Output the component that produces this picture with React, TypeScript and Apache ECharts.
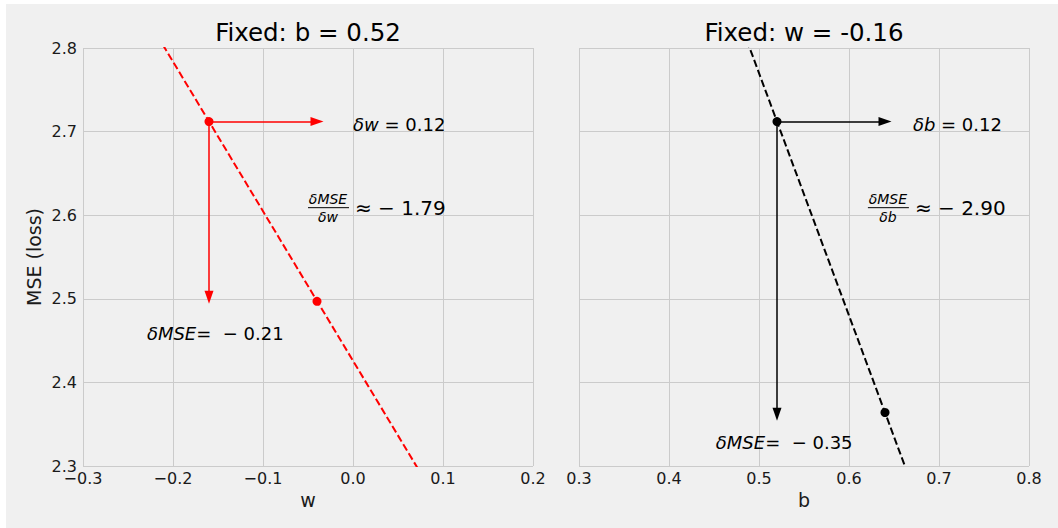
import React, { useEffect, useRef } from "react";
import * as echarts from "echarts";

// ---- data ----
const leftTitle = "Fixed: b = 0.52";
const rightTitle = "Fixed: w = -0.16";
const yAxisName = "MSE (loss)";
const leftXName = "w";
const rightXName = "b";

const yMin = 2.3;
const yMax = 2.8;
const yStep = 0.1;
const leftXMin = -0.3;
const leftXMax = 0.2;
const rightXMin = 0.3;
const rightXMax = 0.8;
const xStep = 0.1;

// dashed tangent lines (two points each, clipped by the axes)
const leftLineW = [-0.26, 0.1];
const leftLineMSE = [2.891, 2.247];
const rightLineB = [0.47, 0.7];
const rightLineMSE = [2.857, 2.19];

// markers
const leftPointsW = [-0.16, -0.04];
const leftPointsMSE = [2.712, 2.497];
const rightPointsB = [0.52, 0.64];
const rightPointsMSE = [2.712, 2.364];

// arrows (start + deltas)
const leftStart = [-0.16, 2.712];
const leftDeltaW = 0.12;
const leftDeltaMSE = -0.21;
const rightStart = [0.52, 2.712];
const rightDeltaB = 0.12;
const rightDeltaMSE = -0.35;

// annotation texts
const leftDxText = ["δw", " = 0.12"];
const leftDyText = ["δMSE", "=  − 0.21"];
const leftFrac = ["δMSE", "δw", "≈ − 1.79"];
const rightDxText = ["δb", " = 0.12"];
const rightDyText = ["δMSE", "=  − 0.35"];
const rightFrac = ["δMSE", "δb", "≈ − 2.90"];

// annotation anchors (data coords)
const leftDxPos = [0.0, 2.708];
const leftDyPos = [-0.229, 2.458];
const leftFracPos = [-0.05, 2.609];
const rightDxPos = [0.671, 2.708];
const rightDyPos = [0.452, 2.328];
const rightFracPos = [0.621, 2.609];

const FONT = "DejaVu Sans";
const TEXT = "#1a1a1a";
const GRID = "#cbcbcb";

const fmt = (v: number) => {
  const s = v.toFixed(1);
  return s.replace("-", "\u2212");
};

export default function App() {
  const ref = useRef<HTMLDivElement>(null);
  useEffect(() => {
    if (!ref.current) return;
    const chart = echarts.init(ref.current, undefined, { renderer: "svg" });
    const grids = [
      { left: 77, top: 44, width: 450, height: 418 },
      { left: 573, top: 44, width: 450, height: 418 },
    ];
    const xAxisBase = (gi: number, min: number, max: number, name: string) => ({
      type: "value",
      gridIndex: gi,
      min,
      max,
      interval: xStep,
      name,
      nameLocation: "middle",
      nameGap: 24,
      nameTextStyle: { fontFamily: FONT, fontSize: 19, color: TEXT },
      axisLine: { show: false },
      axisTick: { show: false },
      axisLabel: {
        fontFamily: FONT,
        fontSize: 16,
        color: TEXT,
        margin: 4,
        formatter: fmt,
        showMinLabel: true,
        showMaxLabel: true,
      },
      splitLine: { show: true, lineStyle: { color: GRID, width: 1 } },
    });
    const yAxisBase = (gi: number, showLabels: boolean) => ({
      type: "value",
      gridIndex: gi,
      min: yMin,
      max: yMax,
      interval: yStep,
      name: showLabels ? yAxisName : "",
      nameLocation: "middle",
      nameGap: 40,
      nameTextStyle: { fontFamily: FONT, fontSize: 19, color: TEXT },
      axisLine: { show: false },
      axisTick: { show: false },
      axisLabel: {
        show: showLabels,
        fontFamily: FONT,
        fontSize: 16,
        color: TEXT,
        margin: 6,
        formatter: fmt,
      },
      splitLine: { show: true, lineStyle: { color: GRID, width: 1 } },
    });

    const arrowLine = (
      start: number[],
      dx: number,
      dy: number,
      color: string
    ) => ({
      silent: true,
      symbol: ["none", "triangle"],
      symbolSize: [9, 13],
      label: { show: false },
      emphasis: { disabled: true },
      lineStyle: { color, width: 1.5, type: "solid" },
      data: [
        [{ coord: [start[0], start[1]] }, { coord: [start[0] + dx, start[1]] }],
        [{ coord: [start[0], start[1]] }, { coord: [start[0], start[1] + dy] }],
      ],
    });

    chart.setOption({
      animation: false,
      backgroundColor: "#f0f0f0",
      grid: grids,
      xAxis: [
        xAxisBase(0, leftXMin, leftXMax, leftXName),
        xAxisBase(1, rightXMin, rightXMax, rightXName),
      ],
      yAxis: [yAxisBase(0, true), yAxisBase(1, false)],
      series: [
        {
          type: "line",
          xAxisIndex: 0,
          yAxisIndex: 0,
          data: leftLineW.map((w, i) => [w, leftLineMSE[i]]),
          symbol: "none",
          clip: true,
          lineStyle: { color: "#ff0000", width: 2, type: [7.4, 3.2] },
          markLine: arrowLine(leftStart, leftDeltaW, leftDeltaMSE, "#ff0000"),
          z: 3,
        },
        {
          type: "scatter",
          xAxisIndex: 0,
          yAxisIndex: 0,
          data: leftPointsW.map((w, i) => [w, leftPointsMSE[i]]),
          symbolSize: 9,
          itemStyle: { color: "#ff0000", opacity: 1 },
          z: 5,
        },
        {
          type: "line",
          xAxisIndex: 1,
          yAxisIndex: 1,
          data: rightLineB.map((b, i) => [b, rightLineMSE[i]]),
          symbol: "none",
          clip: true,
          lineStyle: { color: "#000000", width: 2, type: [7.4, 3.2] },
          markLine: arrowLine(rightStart, rightDeltaB, rightDeltaMSE, "#000000"),
          z: 3,
        },
        {
          type: "scatter",
          xAxisIndex: 1,
          yAxisIndex: 1,
          data: rightPointsB.map((b, i) => [b, rightPointsMSE[i]]),
          symbolSize: 9,
          itemStyle: { color: "#000000", opacity: 1 },
          z: 5,
        },
      ],
    });

    const px = (gi: number, p: number[]) =>
      chart.convertToPixel({ gridIndex: gi } as any, p) as number[];

    const mathText = (gi: number, pos: number[], parts: string[]) => {
      const [x, y] = px(gi, pos);
      return {
        type: "text",
        x,
        y,
        silent: true,
        style: {
          text: `{i|${parts[0]}}{r|${parts[1]}}`,
          align: "left",
          verticalAlign: "middle",
          fill: "#000",
          rich: {
            i: { fontFamily: FONT, fontStyle: "italic", fontSize: 18, fill: "#000", color: "#000" },
            r: { fontFamily: FONT, fontSize: 18, fill: "#000", color: "#000" },
          },
        },
      };
    };

    const fracText = (gi: number, pos: number[], parts: string[]) => {
      const [x, y] = px(gi, pos);
      return {
        type: "group",
        x,
        y,
        silent: true,
        children: [
          {
            type: "text",
            x: 20,
            y: -9,
            style: {
              text: parts[0],
              align: "center",
              verticalAlign: "middle",
              fontFamily: FONT,
              fontStyle: "italic",
              fontSize: 14,
              fill: "#000",
            },
          },
          {
            type: "line",
            shape: { x1: 0, y1: 0, x2: 41, y2: 0 },
            style: { stroke: "#000", lineWidth: 1 },
          },
          {
            type: "text",
            x: 20,
            y: 9,
            style: {
              text: parts[1],
              align: "center",
              verticalAlign: "middle",
              fontFamily: FONT,
              fontStyle: "italic",
              fontSize: 14,
              fill: "#000",
            },
          },
          {
            type: "text",
            x: 47,
            y: 0,
            style: {
              text: parts[2],
              align: "left",
              verticalAlign: "middle",
              fontFamily: FONT,
              fontSize: 20,
              fill: "#000",
            },
          },
        ],
      };
    };

    const titleText = (gi: number, text: string) => {
      const g = grids[gi];
      return {
        type: "text",
        x: g.left + g.width / 2,
        y: 28,
        silent: true,
        style: {
          text,
          align: "center",
          verticalAlign: "middle",
          fontFamily: FONT,
          fontSize: 24.5,
          fill: "#000",
        },
      };
    };

    chart.setOption({
      graphic: [
        titleText(0, leftTitle),
        titleText(1, rightTitle),
        mathText(0, leftDxPos, leftDxText),
        mathText(0, leftDyPos, leftDyText),
        fracText(0, leftFracPos, leftFrac),
        mathText(1, rightDxPos, rightDxText),
        mathText(1, rightDyPos, rightDyText),
        fracText(1, rightFracPos, rightFrac),
      ],
    });

    return () => chart.dispose();
  }, []);

  return (
    <div
      ref={ref}
      style={{
        position: "fixed",
        left: 6,
        top: 4,
        width: 1052,
        height: 524,
      }}
    />
  );
}
